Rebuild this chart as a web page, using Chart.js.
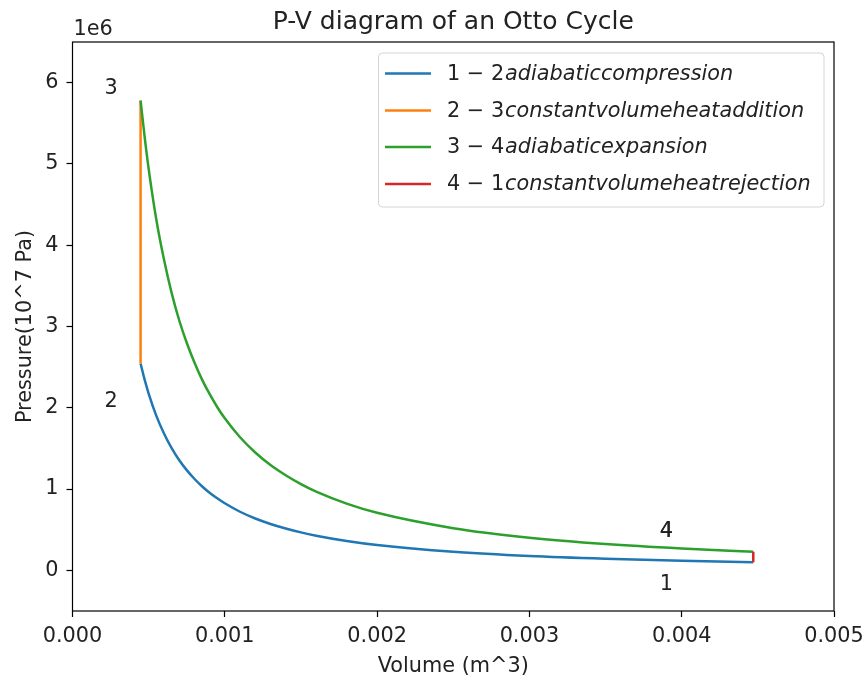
<!DOCTYPE html>
<html>
<head>
<meta charset="utf-8">
<script src="https://cdn.jsdelivr.net/npm/chart.js@4.4.1/dist/chart.umd.min.js"></script>
<style>
  html, body { margin: 0; padding: 0; background: #fff; }
</style>
</head>
<body>
<canvas id="pv" width="865" height="676"></canvas>
<script>
const volume = [0.000447, 0.000475, 0.0005, 0.00055, 0.0006, 0.00065, 0.0007, 0.00075, 0.0008,
  0.00085, 0.0009, 0.00095, 0.001, 0.0011, 0.0012, 0.0013, 0.0014, 0.0015, 0.0016, 0.0018,
  0.002, 0.0025, 0.003, 0.0035, 0.004, 0.00447];
// pressures (Pa)
const compressionP = [2.545e6, 2.337e6, 2.175e6, 1.903e6, 1.686e6, 1.506e6, 1.357e6, 1.233e6, 1.127e6,
  1.035e6, 0.955e6, 0.886e6, 0.825e6, 0.721e6, 0.638e6, 0.571e6, 0.515e6, 0.467e6, 0.427e6, 0.362e6,
  0.312e6, 0.229e6, 0.177e6, 0.143e6, 0.118e6, 0.101e6];
const expansionP = [5.78e6, 5.31e6, 4.94e6, 4.32e6, 3.83e6, 3.42e6, 3.08e6, 2.80e6, 2.56e6,
  2.35e6, 2.17e6, 2.01e6, 1.87e6, 1.637e6, 1.45e6, 1.296e6, 1.17e6, 1.061e6, 0.968e6, 0.821e6,
  0.708e6, 0.519e6, 0.402e6, 0.324e6, 0.269e6, 0.230e6];
const heatAddV = [0.000447, 0.000447];
const heatAddP = [2.545e6, 5.78e6];
const heatRejV = [0.00447, 0.00447];
const heatRejP = [0.230e6, 0.101e6];

const seriesNames = ['1 − 2|adiabaticcompression', '2 − 3|constantvolumeheataddition',
  '3 − 4|adiabaticexpansion', '4 − 1|constantvolumeheatrejection'];
const seriesColors = ['#1f77b4', '#ff7f0e', '#2ca02c', '#d62728'];

const xTicks = [0, 0.001, 0.002, 0.003, 0.004, 0.005];
const yTicks = [0, 1e6, 2e6, 3e6, 4e6, 5e6, 6e6];

// state point labels (placed like plt.text)
const stateText = ['1', '2', '3', '4'];
const stateV = [0.00390, 0.000253, 0.000253, 0.00390];
const stateP = [-0.17e6, 2.07e6, 5.93e6, 0.48e6];

const FONT = '"DejaVu Sans", sans-serif';
const FS = 20.8;

function pts(xs, ys) {
  return xs.map((v, i) => ({ x: v, y: ys[i] }));
}

const datasets = [
  pts(volume, compressionP),
  pts(heatAddV, heatAddP),
  pts(volume, expansionP),
  pts(heatRejV, heatRejP)
].map((d, i) => ({
  label: seriesNames[i],
  data: d,
  showLine: true,
  borderColor: seriesColors[i],
  backgroundColor: seriesColors[i],
  borderWidth: 2.5,
  pointRadius: 0,
  cubicInterpolationMode: 'monotone',
  order: 4 - i
}));

const decorations = {
  id: 'decorations',
  afterDatasetsDraw(chart) {
    const { ctx, chartArea: a, scales: { x, y } } = chart;
    ctx.save();
    // spines
    ctx.strokeStyle = '#000';
    ctx.lineWidth = 1.2;
    ctx.strokeRect(a.left, a.top, a.right - a.left, a.bottom - a.top);

    ctx.fillStyle = '#222';
    ctx.textAlign = 'center';
    ctx.textBaseline = 'middle';
    ctx.font = FS + 'px ' + FONT;
    stateText.forEach((t, i) => {
      const px = x.getPixelForValue(stateV[i]);
      const py = y.getPixelForValue(stateP[i]);
      ctx.fillText(t, px, py);
      if (t === '4') ctx.fillText(t, px, py); // drawn twice in the original
    });

    // title
    ctx.font = '25px ' + FONT;
    ctx.textBaseline = 'alphabetic';
    ctx.fillText('P-V diagram of an Otto Cycle', (a.left + a.right) / 2, 28.5);

    // offset text
    ctx.font = FS + 'px ' + FONT;
    ctx.textAlign = 'left';
    ctx.fillText('1e6', a.left + 1, 35);

    // axis labels
    ctx.textAlign = 'center';
    ctx.fillText('Volume (m^3)', (a.left + a.right) / 2, 672);
    ctx.save();
    ctx.translate(31, (a.top + a.bottom) / 2);
    ctx.rotate(-Math.PI / 2);
    ctx.fillText('Pressure(10^7 Pa)', 0, 0);
    ctx.restore();

    // legend
    const lx = 378.5, ly = 53, lw = 445.5, lh = 154;
    ctx.beginPath();
    ctx.roundRect(lx, ly, lw, lh, 4);
    ctx.fillStyle = 'rgba(255,255,255,0.8)';
    ctx.fill();
    ctx.strokeStyle = '#d4d4d4';
    ctx.lineWidth = 1;
    ctx.stroke();
    const rows = [73.5, 110.5, 147, 184];
    chart.data.datasets.forEach((ds, i) => {
      const ry = rows[i];
      ctx.strokeStyle = ds.borderColor;
      ctx.lineWidth = 2.5;
      ctx.beginPath();
      ctx.moveTo(385, ry);
      ctx.lineTo(431, ry);
      ctx.stroke();
      const [upright, italic] = ds.label.split('|');
      ctx.fillStyle = '#222';
      ctx.textAlign = 'left';
      ctx.textBaseline = 'middle';
      ctx.font = FS + 'px ' + FONT;
      ctx.fillText(upright, 447, ry + 1);
      const w = ctx.measureText(upright).width;
      ctx.font = 'italic ' + FS + 'px ' + FONT;
      ctx.fillText(italic, 448 + w, ry + 1);
    });
    ctx.restore();
  }
};

new Chart(document.getElementById('pv'), {
  type: 'scatter',
  data: { datasets },
  options: {
    responsive: false,
    animation: false,
    layout: { padding: { top: 42, right: 31, bottom: 0, left: 0 } },
    plugins: { legend: { display: false }, tooltip: { enabled: false } },
    scales: {
      x: {
        type: 'linear',
        min: 0,
        max: 0.005,
        afterBuildTicks: s => { s.ticks = xTicks.map(v => ({ value: v })); },
        afterFit: s => { s.height = 65; s.paddingLeft = 0; s.paddingRight = 0; },
        ticks: {
          color: '#222',
          font: { family: FONT, size: FS },
          padding: 7,
          maxRotation: 0,
          autoSkip: false,
          callback: v => v.toFixed(3)
        },
        grid: { drawOnChartArea: false, tickLength: 6, tickColor: '#000', tickWidth: 1.2 },
        border: { display: false }
      },
      y: {
        type: 'linear',
        min: -0.5e6,
        max: 6.5e6,
        afterBuildTicks: s => { s.ticks = yTicks.map(v => ({ value: v })); },
        afterFit: s => { s.width = 72.5; s.paddingTop = 0; s.paddingBottom = 0; },
        ticks: {
          color: '#222',
          font: { family: FONT, size: FS },
          padding: 8,
          autoSkip: false,
          callback: v => String(Math.round(v / 1e6))
        },
        grid: { drawOnChartArea: false, tickLength: 6, tickColor: '#000', tickWidth: 1.2 },
        border: { display: false }
      }
    }
  },
  plugins: [decorations]
});
</script>
</body>
</html>
